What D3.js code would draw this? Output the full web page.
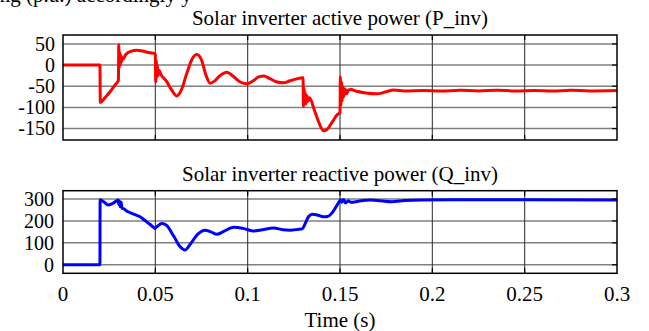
<!DOCTYPE html>
<html><head><meta charset="utf-8">
<script src="https://cdn.jsdelivr.net/npm/d3@7"></script>
<style>body{margin:0;background:#fff;} svg{display:block;} text{font-family:"Liberation Serif","Times New Roman",serif;fill:#000;}</style>
</head><body>
<svg id="c" width="649" height="331"></svg>
<script>
const xTicks = [0, 0.05, 0.1, 0.15, 0.2, 0.25, 0.3];
const xTickLabels = ["0", "0.05", "0.1", "0.15", "0.2", "0.25", "0.3"];
const yTicksP = [50, 0, -50, -100, -150];
const yTicksQ = [300, 200, 100, 0];

const timeP = [0,0.0200,0.0202,0.0210,0.0230,0.0255,0.0280,0.0298,0.0300,0.0302,0.0305,0.0308,0.0311,0.0314,0.0317,0.0320,0.0325,0.0340,0.0370,0.0400,0.0430,0.0470,0.0498,0.0500,0.0502,0.0505,0.0508,0.0511,0.0515,0.0520,0.0530,0.0560,0.0590,0.0616,0.0640,0.0670,0.0700,0.0725,0.0750,0.0775,0.0797,0.0820,0.0850,0.0888,0.0920,0.0960,0.0997,0.1030,0.1060,0.1087,0.1120,0.1160,0.1196,0.1230,0.1270,0.1296,0.1300,0.1302,0.1305,0.1308,0.1312,0.1316,0.1320,0.1328,0.1335,0.1360,0.1385,0.1410,0.1430,0.1460,0.1485,0.1498,0.1500,0.1502,0.1505,0.1508,0.1511,0.1515,0.1520,0.1527,0.1535,0.1545,0.1560,0.1590,0.1640,0.1700,0.1750,0.1790,0.1850,0.1950,0.2050,0.2150,0.2250,0.2350,0.2450,0.2550,0.2650,0.2750,0.2850,0.3000];
const valuesP = [0,0,-88,-86,-76,-63,-48,-38,-36,48,-5,30,0,22,8,18,14,25,33,35,33,29,27,25,-40,10,-30,0,-25,-12,-22,-38,-60,-73,-60,-20,15,25,12,-25,-43,-38,-25,-17,-26,-40,-44,-37,-28,-26,-32,-40,-42,-37,-32,-30,-30,-98,-55,-90,-65,-92,-72,-85,-77,-105,-135,-155,-152,-133,-117,-113,-112,-28,-95,-40,-85,-50,-75,-56,-68,-59,-58,-62,-66,-68,-63,-59,-61,-60,-61.5,-59.5,-61,-59.5,-61,-60,-61.5,-59.5,-61,-60];

const timeQ = [0,0.0200,0.0201,0.0220,0.0245,0.0270,0.0290,0.0298,0.0302,0.0305,0.0310,0.0315,0.0320,0.0330,0.0345,0.0380,0.0417,0.0450,0.0480,0.0498,0.0502,0.0510,0.0535,0.0560,0.0600,0.0635,0.0661,0.0690,0.0730,0.0770,0.0800,0.0834,0.0870,0.0924,0.0980,0.1033,0.1080,0.1140,0.1190,0.1230,0.1270,0.1296,0.1310,0.1330,0.1350,0.1380,0.1410,0.1432,0.1460,0.1490,0.1504,0.1510,0.1520,0.1530,0.1545,0.1560,0.1600,0.1667,0.1720,0.1780,0.1850,0.1950,0.2100,0.2500,0.3000];
const valuesQ = [0,0,297,288,273,280,292,296,275,292,265,285,258,255,245,232,219,198,178,166,170,175,188,180,130,82,67,95,140,158,150,139,152,171,165,154,160,168,160,158,161,164,185,220,230,226,219,220,240,280,297,285,298,282,292,285,290,295,292,288,293,296,297,297,296];

const svg = d3.select("#c");
const X0 = 63, X1 = 617;
const x = d3.scaleLinear().domain([0, 0.3]).range([X0, X1]);

function panel(top, bottom, domain, yTicks, times, vals, color, title, labelX) {
  const y = d3.scaleLinear().domain(domain).range([bottom, top]);
  const g = svg.append("g");
  g.selectAll(".hg").data(yTicks).join("line")
    .attr("x1", X0).attr("x2", X1).attr("y1", d => y(d)).attr("y2", d => y(d))
    .attr("stroke", "#808080").attr("stroke-width", 1.5);
  g.selectAll(".vg").data(xTicks.slice(1, -1)).join("line")
    .attr("x1", d => x(d)).attr("x2", d => x(d)).attr("y1", top).attr("y2", bottom)
    .attr("stroke", "#3a3a3a").attr("stroke-width", 1.1);
  const line = d3.line().x((d, i) => x(times[i])).y(d => y(d)).curve(d3.curveMonotoneX);
  g.append("path").datum(vals).attr("d", line).attr("fill", "none")
    .attr("stroke", color).attr("stroke-width", 3).attr("stroke-linejoin", "round");
  g.selectAll(".rt").data(yTicks).join("line")
    .attr("x1", X1 - 5).attr("x2", X1).attr("y1", d => y(d)).attr("y2", d => y(d))
    .attr("stroke", "#000").attr("stroke-width", 1.2);
  g.selectAll(".bt").data(xTicks.slice(1, -1)).join("line")
    .attr("x1", d => x(d)).attr("x2", d => x(d)).attr("y1", bottom - 5).attr("y2", bottom)
    .attr("stroke", "#000").attr("stroke-width", 1.2);
  g.selectAll(".tt").data(xTicks.slice(1, -1)).join("line")
    .attr("x1", d => x(d)).attr("x2", d => x(d)).attr("y1", top).attr("y2", top + 5)
    .attr("stroke", "#000").attr("stroke-width", 1.2);
  g.append("rect").attr("x", X0).attr("y", top).attr("width", X1 - X0).attr("height", bottom - top)
    .attr("fill", "none").attr("stroke", "#000").attr("stroke-width", 1.5);
  g.selectAll(".yl").data(yTicks).join("text")
    .attr("x", labelX).attr("y", d => y(d)).attr("dy", "0.34em")
    .attr("text-anchor", "end").attr("font-size", 20).text(d => d);
  g.append("text").attr("x", (X0 + X1) / 2).attr("y", top - 10)
    .attr("text-anchor", "middle").attr("font-size", 21).text(title);
  return y;
}

panel(35, 140, [-177, 71], yTicksP, timeP, valuesP, "#ff0000", "Solar inverter active power (P_inv)", 55);
panel(190.7, 273.3, [-39, 338], yTicksQ, timeQ, valuesQ, "#0000ff", "Solar inverter reactive power (Q_inv)", 54);

svg.selectAll(".xl").data(xTicks).join("text")
  .attr("x", d => x(d)).attr("y", 301).attr("text-anchor", "middle").attr("font-size", 21)
  .text((d, i) => xTickLabels[i]);
svg.append("text").attr("x", (X0 + X1) / 2).attr("y", 326.5).attr("text-anchor", "middle")
  .attr("font-size", 21).text("Time (s)");
// cropped text from the source page at the very top
svg.append("text").attr("x", -6).attr("y", 2).attr("font-size", 21).text("ing (p.u.) accordingly y");
</script>
</body></html>
